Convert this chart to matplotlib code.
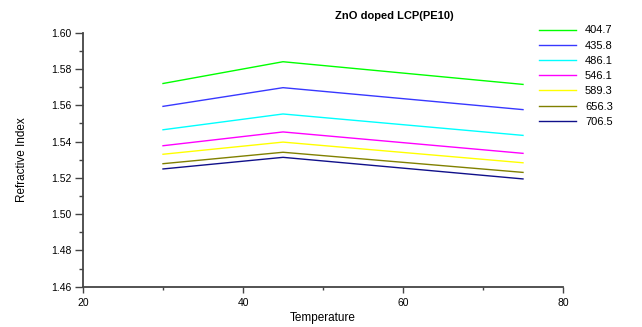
import matplotlib
matplotlib.use("Agg")
import matplotlib.pyplot as plt
from matplotlib.ticker import MultipleLocator

plt.rcParams['font.family'] = ['Liberation Sans', 'DejaVu Sans']

temperature = [30, 45, 75]
wavelengths = ["404.7", "435.8", "486.1", "546.1", "589.3", "656.3", "706.5"]
n_404 = [1.572, 1.584, 1.5715]
n_435 = [1.5594, 1.5697, 1.5576]
n_486 = [1.5465, 1.5552, 1.5434]
n_546 = [1.5377, 1.5453, 1.5335]
n_589 = [1.533, 1.5397, 1.5283]
n_656 = [1.5278, 1.5341, 1.523]
n_706 = [1.5249, 1.5313, 1.5194]
series = [n_404, n_435, n_486, n_546, n_589, n_656, n_706]
colors = ['#00ff00', '#3838ff', '#00ffff', '#ff00ff', '#ffff00', '#808000', '#10108a']

fig = plt.figure(figsize=(6.42, 3.27), dpi=100)
ax = fig.add_axes([83/642, 1 - 286.7/327, (563-83)/642, (286.7-32.7)/327])

for lab, vals, c in zip(wavelengths, series, colors):
    ax.plot(temperature, vals, color=c, lw=1.0, label=lab)

ax.set_xlim(20, 80)
ax.set_ylim(1.46, 1.60)
ax.xaxis.set_major_locator(MultipleLocator(20))
ax.xaxis.set_minor_locator(MultipleLocator(10))
ax.yaxis.set_major_locator(MultipleLocator(0.02))
ax.yaxis.set_minor_locator(MultipleLocator(0.01))
ax.yaxis.set_major_formatter(matplotlib.ticker.FormatStrFormatter('%.2f'))

for s in ['top', 'right']:
    ax.spines[s].set_visible(False)
for s in ['left', 'bottom']:
    ax.spines[s].set_color('#444444')
    ax.spines[s].set_linewidth(1.3)

ax.tick_params(axis='both', which='major', direction='out', length=6, width=1,
               color='#444444', labelsize=7.5, pad=2)
ax.tick_params(axis='both', which='minor', direction='out', length=3, width=1,
               color='#444444')
ax.tick_params(axis='x', which='major', length=4, pad=4)
ax.tick_params(axis='x', which='minor', length=2)

fig.text(323/642, 1 - 318/327, 'Temperature', ha='center', va='center', fontsize=8.5)
fig.text(22/642, 1 - 160/327, 'Refractive Index', ha='center', va='center',
         fontsize=8.5, rotation=90)

fig.text(394/642, 1 - 16/327, 'ZnO doped LCP(PE10)', ha='center', va='center',
         fontsize=8, fontweight='bold')

leg = ax.legend(loc='upper left', bbox_to_anchor=(535/642, 1 - 21/327),
                bbox_transform=fig.transFigure, frameon=False, fontsize=8,
                handlelength=3.3, labelspacing=0.47, handletextpad=0.8,
                borderaxespad=0)

fig.savefig('out.png', dpi=100)
